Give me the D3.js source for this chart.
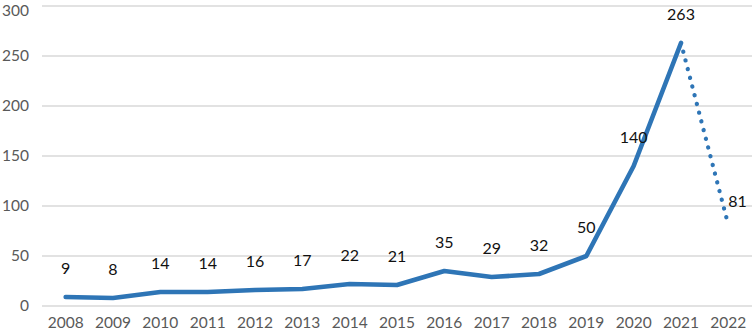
<!DOCTYPE html>
<html><head><meta charset="utf-8">
<script src="https://cdn.jsdelivr.net/npm/d3@7"></script>
<style>
html,body{margin:0;padding:0;background:#fff;}
svg{display:block;}
</style></head>
<body>
<svg id="chart" width="752" height="336"></svg>
<script>
const years = ["2008","2009","2010","2011","2012","2013","2014","2015","2016","2017","2018","2019","2020","2021","2022"];
const counts = [9, 8, 14, 14, 16, 17, 22, 21, 35, 29, 32, 50, 140, 263, 81];
const yTicks = [0, 50, 100, 150, 200, 250, 300];

const W = 752, H = 336;
const svg = d3.select("#chart");
const font = "Lato, 'Open Sans', sans-serif";

const x = d3.scaleBand().domain(years).range([42, 752]).padding(0);
const y = d3.scaleLinear().domain([0, 300]).range([306, 6]);
const cx = d => x(d) + x.bandwidth() / 2;

// gridlines
svg.append("g").selectAll("line").data(yTicks).join("line")
  .attr("x1", 42).attr("x2", 752)
  .attr("y1", d => y(d)).attr("y2", d => y(d))
  .attr("stroke", "#d9d9d9").attr("stroke-width", 1.5);

// y axis labels
const yAxis = d3.axisLeft(y).tickValues(yTicks).tickSize(0).tickPadding(0);
const gy = svg.append("g").attr("transform", "translate(29,0)").call(yAxis);
gy.select(".domain").remove();
gy.selectAll("text").attr("font-family", font).attr("font-size", 15.5).attr("fill", "#595959")
  .attr("dy", d => d === 300 ? "0.6em" : "0.32em");

// x axis labels
const xAxis = d3.axisBottom(x).tickSize(0).tickPadding(0);
const gx = svg.append("g").attr("transform", "translate(0,317)").call(xAxis);
gx.select(".domain").remove();
gx.selectAll("text").attr("font-family", font).attr("font-size", 15.5).attr("fill", "#595959");

const pts = years.map((yr, i) => ({yr, v: counts[i]}));
const line = d3.line().x(d => cx(d.yr)).y(d => y(d.v));
const color = "#2e75b6";

// solid part (all but last segment)
svg.append("path").datum(pts.slice(0, pts.length - 1))
  .attr("d", line).attr("fill", "none").attr("stroke", color)
  .attr("stroke-width", 4.6).attr("stroke-linejoin", "round").attr("stroke-linecap", "round");

// dotted last segment
svg.append("path").datum(pts.slice(pts.length - 2))
  .attr("d", line).attr("fill", "none").attr("stroke", color)
  .attr("stroke-width", 4.3).attr("stroke-linecap", "round")
  .attr("stroke-dasharray", "0.1 8.9").attr("stroke-dashoffset", -8.9);

// data labels
const last = pts.length - 1;
svg.append("g").selectAll("text").data(pts).join("text")
  .attr("x", d => cx(d.yr))
  .attr("y", (d, i) => i === last ? y(d.v) - 18 : y(d.v) - 23)
  .attr("text-anchor", (d, i) => i === last ? "start" : "middle")
  .attr("font-family", font).attr("font-size", 16).attr("fill", "#111")
  .text(d => d.v);
</script>
</body></html>
